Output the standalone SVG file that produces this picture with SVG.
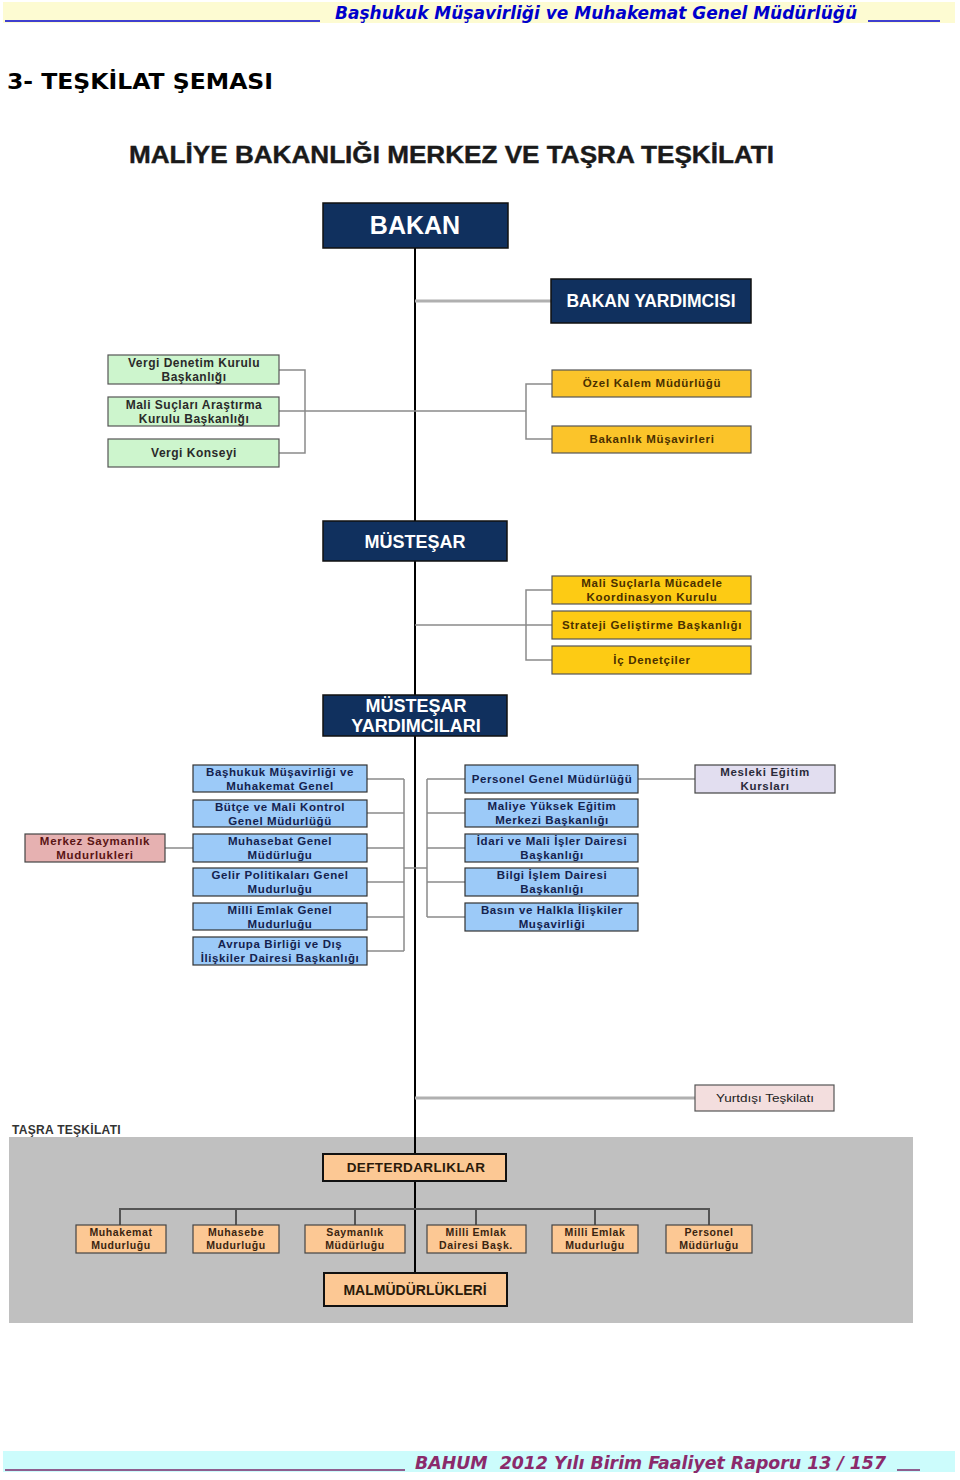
<svg xmlns="http://www.w3.org/2000/svg" width="960" height="1480" viewBox="0 0 960 1480">
<style>
.t{font-family:"Liberation Sans",Arial,sans-serif;font-weight:bold;text-anchor:middle}
.navy{fill:#10305e;stroke:#111;stroke-width:1.5}
.wt{fill:#fff}
.green{fill:#cdf5cd;stroke:#555;stroke-width:1.2}
.gt{fill:#2a2a2a;font-size:12px;letter-spacing:0.5px}
.yel1{fill:#fbc42a;stroke:#555;stroke-width:1.2}
.yel2{fill:#fdcb14;stroke:#555;stroke-width:1.2}
.yt{fill:#4a3000;font-size:11.5px;letter-spacing:0.7px}
.blue{fill:#9ccaf8;stroke:#333;stroke-width:1.2}
.bt{fill:#14224e;font-size:11.5px;letter-spacing:0.6px}
.org{fill:#fcc894;stroke:#444;stroke-width:1.2}
.orgb{fill:#fcc894;stroke:#111;stroke-width:2}
.ot{fill:#3a2410;font-size:10.5px;letter-spacing:0.6px}
.c{fill:none;stroke:#8a8a8a;stroke-width:1.5}
.cg{fill:none;stroke:#b0b0b0;stroke-width:3}
.cm{fill:none;stroke:#000;stroke-width:2}
.cd{fill:none;stroke:#555;stroke-width:2}
</style>

<!-- header -->
<g id="header">
<rect x="3" y="2" width="952" height="21" fill="#fdfbd2"/>
<line x1="5" y1="21" x2="320" y2="21" stroke="#0000cc" stroke-width="1.5"/>
<line x1="868" y1="21" x2="940" y2="21" stroke="#0000cc" stroke-width="1.5"/>
<text x="335" y="19" font-family="DejaVu Sans,Verdana,sans-serif" font-weight="bold" font-style="italic" font-size="17" fill="#0000cc" textLength="522" lengthAdjust="spacingAndGlyphs">Başhukuk Müşavirliği ve Muhakemat Genel Müdürlüğü</text>
</g>
<text id="section-title" x="7" y="89" font-family="DejaVu Sans,Verdana,sans-serif" font-weight="bold" font-size="22" fill="#000" textLength="266" lengthAdjust="spacingAndGlyphs">3- TEŞKİLAT ŞEMASI</text>
<text id="chart-title" x="129" y="163" font-family="Liberation Sans,Arial,sans-serif" font-weight="bold" font-size="24" fill="#1a1a1a" stroke="#1a1a1a" stroke-width="0.4" textLength="645" lengthAdjust="spacingAndGlyphs">MALİYE BAKANLIĞI MERKEZ VE TAŞRA TEŞKİLATI</text>

<!-- taşra background -->
<g id="tasra-area">
<rect x="9" y="1137" width="904" height="186" fill="#c0c0c0"/>
<text x="12" y="1134" font-family="Liberation Sans,Arial,sans-serif" font-weight="bold" font-size="12" fill="#333" letter-spacing="0.3">TAŞRA TEŞKİLATI</text>
</g>

<!-- connectors -->
<g id="connectors">
<line class="cm" x1="415" y1="248" x2="415" y2="1273"/>
<line class="cg" x1="415" y1="301" x2="551" y2="301"/>
<polyline class="c" points="279,370 305,370 305,453 279,453"/>
<line class="c" x1="279" y1="411" x2="526" y2="411"/>
<polyline class="c" points="552,384 526,384 526,439 552,439"/>
<line class="c" x1="415" y1="625" x2="552" y2="625"/>
<polyline class="c" points="552,590 526,590 526,660 552,660"/>
<line class="c" x1="367" y1="779" x2="404" y2="779"/>
<line class="c" x1="367" y1="813" x2="404" y2="813"/>
<line class="c" x1="367" y1="848" x2="404" y2="848"/>
<line class="c" x1="367" y1="882" x2="404" y2="882"/>
<line class="c" x1="367" y1="917" x2="404" y2="917"/>
<line class="c" x1="367" y1="951" x2="404" y2="951"/>
<line class="c" x1="404" y1="779" x2="404" y2="951"/>
<line class="c" x1="404" y1="868" x2="427" y2="868"/>
<line class="c" x1="165" y1="848" x2="193" y2="848"/>
<line class="c" x1="427" y1="779" x2="427" y2="917"/>
<line class="c" x1="427" y1="779" x2="465" y2="779"/>
<line class="c" x1="427" y1="813" x2="465" y2="813"/>
<line class="c" x1="427" y1="848" x2="465" y2="848"/>
<line class="c" x1="427" y1="882" x2="465" y2="882"/>
<line class="c" x1="427" y1="917" x2="465" y2="917"/>
<line class="c" x1="638" y1="779" x2="695" y2="779"/>
<line class="cg" x1="415" y1="1098" x2="695" y2="1098"/>
<line class="cd" x1="119" y1="1209" x2="710" y2="1209"/>
<line class="cd" x1="120" y1="1209" x2="120" y2="1225"/>
<line class="cd" x1="236" y1="1209" x2="236" y2="1225"/>
<line class="cd" x1="355" y1="1209" x2="355" y2="1225"/>
<line class="cd" x1="476" y1="1209" x2="476" y2="1225"/>
<line class="cd" x1="595" y1="1209" x2="595" y2="1225"/>
<line class="cd" x1="709" y1="1209" x2="709" y2="1225"/>
</g>

<g id="bakan"><rect class="navy" x="323" y="203" width="185" height="45"/><text class="t wt" x="415" y="234" font-size="25">BAKAN</text></g>
<g id="bakan-yardimcisi"><rect class="navy" x="551" y="279" width="200" height="44"/><text class="t wt" x="651" y="307" font-size="17.5">BAKAN YARDIMCISI</text></g>

<g id="vergi-denetim"><rect class="green" x="108" y="355" width="171" height="29"/><text class="t gt" x="194" y="367">Vergi Denetim Kurulu</text><text class="t gt" x="194" y="381">Başkanlığı</text></g>
<g id="mali-suclari"><rect class="green" x="108" y="397" width="171" height="29"/><text class="t gt" x="194" y="409">Mali Suçları Araştırma</text><text class="t gt" x="194" y="423">Kurulu Başkanlığı</text></g>
<g id="vergi-konseyi"><rect class="green" x="108" y="439" width="171" height="28"/><text class="t gt" x="194" y="457">Vergi Konseyi</text></g>

<g id="ozel-kalem"><rect class="yel1" x="552" y="370" width="199" height="27"/><text class="t yt" x="652" y="387">Özel Kalem Müdürlüğü</text></g>
<g id="bakanlik-musavirleri"><rect class="yel1" x="552" y="426" width="199" height="27"/><text class="t yt" x="652" y="443">Bakanlık Müşavirleri</text></g>

<g id="mustesar"><rect class="navy" x="323" y="521" width="184" height="40"/><text class="t wt" x="415" y="548" font-size="18">MÜSTEŞAR</text></g>

<g id="mali-suclarla"><rect class="yel2" x="552" y="576" width="199" height="28"/><text class="t yt" x="652" y="587">Mali Suçlarla Mücadele</text><text class="t yt" x="652" y="601">Koordinasyon Kurulu</text></g>
<g id="strateji"><rect class="yel2" x="552" y="611" width="199" height="28"/><text class="t yt" x="652" y="629">Strateji Geliştirme Başkanlığı</text></g>
<g id="ic-denetciler"><rect class="yel2" x="552" y="646" width="199" height="28"/><text class="t yt" x="652" y="664">İç Denetçiler</text></g>

<g id="mustesar-yardimcilari"><rect class="navy" x="323" y="695" width="184" height="41"/><text class="t wt" x="416" y="712" font-size="18">MÜSTEŞAR</text><text class="t wt" x="416" y="732" font-size="18">YARDIMCILARI</text></g>

<g id="bashukuk"><rect class="blue" x="193" y="765" width="174" height="27"/><text class="t bt" x="280" y="776">Başhukuk Müşavirliği ve</text><text class="t bt" x="280" y="790">Muhakemat Genel</text></g>
<g id="butce"><rect class="blue" x="193" y="800" width="174" height="27"/><text class="t bt" x="280" y="811">Bütçe ve Mali Kontrol</text><text class="t bt" x="280" y="825">Genel Müdurlüğü</text></g>
<g id="muhasebat"><rect class="blue" x="193" y="834" width="174" height="28"/><text class="t bt" x="280" y="845">Muhasebat Genel</text><text class="t bt" x="280" y="859">Müdürluğu</text></g>
<g id="gelir"><rect class="blue" x="193" y="868" width="174" height="28"/><text class="t bt" x="280" y="879">Gelir Politikaları Genel</text><text class="t bt" x="280" y="893">Mudurluğu</text></g>
<g id="milli-emlak-genel"><rect class="blue" x="193" y="903" width="174" height="27"/><text class="t bt" x="280" y="914">Milli Emlak Genel</text><text class="t bt" x="280" y="928">Mudurluğu</text></g>
<g id="avrupa-birligi"><rect class="blue" x="193" y="937" width="174" height="28"/><text class="t bt" x="280" y="948">Avrupa Birliği ve Dış</text><text class="t bt" x="280" y="962">İlişkiler Dairesi Başkanlığı</text></g>

<g id="merkez-saymanlik"><rect x="25" y="834" width="140" height="28" fill="#e6b1b1" stroke="#444" stroke-width="1.2"/><text class="t" x="95" y="845" font-size="11.5" fill="#5a1414" letter-spacing="0.7">Merkez Saymanlık</text><text class="t" x="95" y="859" font-size="11.5" fill="#5a1414" letter-spacing="0.7">Mudurlukleri</text></g>

<g id="personel-genel"><rect class="blue" x="465" y="765" width="173" height="28"/><text class="t bt" x="552" y="783">Personel Genel Müdürlüğü</text></g>
<g id="maliye-yuksek"><rect class="blue" x="465" y="799" width="173" height="28"/><text class="t bt" x="552" y="810">Maliye Yüksek Eğitim</text><text class="t bt" x="552" y="824">Merkezi Başkanlığı</text></g>
<g id="idari-mali"><rect class="blue" x="465" y="834" width="173" height="28"/><text class="t bt" x="552" y="845">İdari ve Mali İşler Dairesi</text><text class="t bt" x="552" y="859">Başkanlığı</text></g>
<g id="bilgi-islem"><rect class="blue" x="465" y="868" width="173" height="28"/><text class="t bt" x="552" y="879">Bilgi İşlem Dairesi</text><text class="t bt" x="552" y="893">Başkanlığı</text></g>
<g id="basin"><rect class="blue" x="465" y="903" width="173" height="28"/><text class="t bt" x="552" y="914">Basın ve Halkla İlişkiler</text><text class="t bt" x="552" y="928">Muşavirliği</text></g>

<g id="mesleki-egitim"><rect x="695" y="765" width="140" height="28" fill="#e2def0" stroke="#444" stroke-width="1.2"/><text class="t" x="765" y="776" font-size="11.5" fill="#2a2a3a" letter-spacing="0.7">Mesleki Eğitim</text><text class="t" x="765" y="790" font-size="11.5" fill="#2a2a3a" letter-spacing="0.7">Kursları</text></g>

<g id="yurtdisi"><rect x="695" y="1085" width="139" height="26" fill="#f3dede" stroke="#555" stroke-width="1.2"/><text x="765" y="1102" font-family="Liberation Sans Narrow,Liberation Sans,Arial,sans-serif" font-size="11.5" fill="#222" text-anchor="middle" textLength="98" lengthAdjust="spacingAndGlyphs">Yurtdışı Teşkilatı</text></g>

<g id="defterdarliklar"><rect class="orgb" x="323" y="1154" width="183" height="27"/><text class="t" x="416" y="1172" font-size="13.5" fill="#2a1a0a" letter-spacing="0.4">DEFTERDARLIKLAR</text></g>
<g id="muhakemat-mud"><rect class="org" x="76" y="1225" width="90" height="28"/><text class="t ot" x="121" y="1236">Muhakemat</text><text class="t ot" x="121" y="1249">Mudurluğu</text></g>
<g id="muhasebe-mud"><rect class="org" x="193" y="1225" width="86" height="28"/><text class="t ot" x="236" y="1236">Muhasebe</text><text class="t ot" x="236" y="1249">Mudurluğu</text></g>
<g id="saymanlik-mud"><rect class="org" x="305" y="1225" width="100" height="28"/><text class="t ot" x="355" y="1236">Saymanlık</text><text class="t ot" x="355" y="1249">Müdürluğu</text></g>
<g id="milli-emlak-daire"><rect class="org" x="427" y="1225" width="99" height="28"/><text class="t ot" x="476" y="1236">Milli Emlak</text><text class="t ot" x="476" y="1249">Dairesi Başk.</text></g>
<g id="milli-emlak-mud"><rect class="org" x="552" y="1225" width="86" height="28"/><text class="t ot" x="595" y="1236">Milli Emlak</text><text class="t ot" x="595" y="1249">Mudurluğu</text></g>
<g id="personel-mud"><rect class="org" x="666" y="1225" width="86" height="28"/><text class="t ot" x="709" y="1236">Personel</text><text class="t ot" x="709" y="1249">Müdürluğu</text></g>
<g id="malmudurlukleri"><rect class="orgb" x="324" y="1273" width="183" height="33"/><text class="t" x="415" y="1295" font-size="14" fill="#2a1a0a">MALMÜDÜRLÜKLERİ</text></g>

<g id="footer">
<rect x="3" y="1451" width="952" height="21" fill="#ccfcfc"/>
<line x1="5" y1="1470" x2="405" y2="1470" stroke="#7a2a6a" stroke-width="1.5"/>
<line x1="897" y1="1470" x2="920" y2="1470" stroke="#7a2a6a" stroke-width="1.5"/>
<text x="415" y="1469" font-family="DejaVu Sans,Verdana,sans-serif" font-weight="bold" font-style="italic" font-size="17" fill="#8b2a6b" style="white-space:pre" textLength="471" lengthAdjust="spacingAndGlyphs">BAHUM  2012 Yılı Birim Faaliyet Raporu 13 / 157</text>
</g>
</svg>
